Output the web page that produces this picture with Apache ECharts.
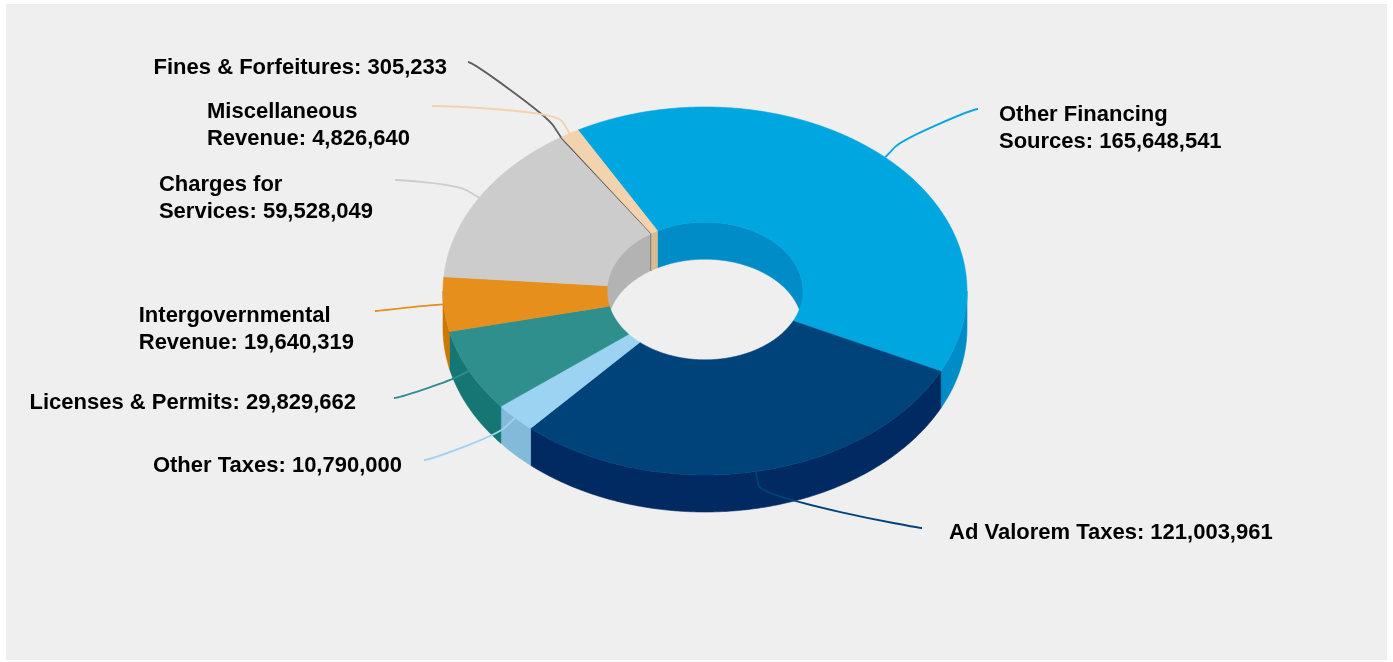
<!DOCTYPE html>
<html>
<head>
<meta charset="utf-8">
<script src="https://cdn.jsdelivr.net/npm/echarts@6/dist/echarts.min.js"></script>
<style>
  html, body { margin: 0; padding: 0; background: #ffffff; }
  #chart { width: 1393px; height: 662px; }
</style>
</head>
<body>
<div id="chart"></div>
<script>
// Revenue sources, in drawing order (clockwise)
const categories = [
  'Other Financing Sources',
  'Ad Valorem Taxes',
  'Other Taxes',
  'Licenses & Permits',
  'Intergovernmental Revenue',
  'Charges for Services',
  'Fines & Forfeitures',
  'Miscellaneous Revenue'
];
const revenue = [165648541, 121003961, 10790000, 29829662, 19640319, 59528049, 305233, 4826640];
const sliceColors = ['#00a6e0', '#00437a', '#9dd3f2', '#2e8f8c', '#e68f1c', '#cccccc', '#5e5e5e', '#f2d3ad'];
// words kept on the first label line (0 = single line)
const labelBreak = [2, 0, 0, 0, 1, 2, 0, 1];

// label placement relative to the donut centre:
// end = where the connector meets the label, text = first-line centre (left edge or right edge)
const labelLayout = [
  { side: 'right', end: [273, -182], text: [294, -176] },
  { side: 'right', end: [217, 237], text: [244, 242] },
  { side: 'left', end: [-281, 169], text: [-303, 175] },
  { side: 'left', end: [-311, 107], text: [-349, 112] },
  { side: 'left', end: [-330, 20], text: [-351, 25] },
  { side: 'left', end: [-310, -111], text: [-332, -106] },
  { side: 'left', end: [-237, -229], text: [-258, -223] },
  { side: 'left', end: [-273, -185], text: [-295, -179] }
];

const LABEL_FONT = 'bold 22px "Liberation Sans", Arial, Helvetica, sans-serif';
const LINE_H = 27;
const START_ANGLE = -29; // degrees, clockwise from 12 o'clock

const total = revenue.reduce((a, b) => a + b, 0);
const sliceStart = [];
const sliceEnd = [];
(function () {
  let acc = START_ANGLE;
  revenue.forEach(v => {
    sliceStart.push(acc);
    acc += v / total * 360;
    sliceEnd.push(acc);
  });
})();

const measureCtx = document.createElement('canvas').getContext('2d');
measureCtx.font = LABEL_FONT;

function labelLines(i) {
  const text = categories[i] + ': ' + revenue[i].toLocaleString('en-US');
  if (!labelBreak[i]) return [text];
  const words = text.split(' ');
  return [words.slice(0, labelBreak[i]).join(' '), words.slice(labelBreak[i]).join(' ')];
}

function shade(hex, amount) {
  const n = parseInt(hex.slice(1), 16);
  const ch = [(n >> 16) & 255, (n >> 8) & 255, n & 255].map(c =>
    Math.max(0, Math.min(255, Math.round(c + amount * 255))));
  return 'rgb(' + ch.join(',') + ')';
}

function geometry(api) {
  const W = api.getWidth(), H = api.getHeight();
  return { cx: W * 705 / 1393, cy: H * 291 / 662, rx: 262, ry: 184, depth: 37, inner: 0.374 };
}

function pt(g, r, deg, dz) {
  const t = deg * Math.PI / 180;
  return [g.cx + g.rx * r * Math.sin(t), g.cy - g.ry * r * Math.cos(t) + (dz || 0)];
}

function arc(g, r, a, b, dz) {
  const n = Math.max(2, Math.ceil(Math.abs(b - a) / 0.5) + 1);
  const out = [];
  for (let i = 0; i < n; i++) out.push(pt(g, r, a + (b - a) * i / (n - 1), dz));
  return out;
}

function overlap(a, b, lo, hi) {
  const res = [];
  for (let k = -2; k <= 2; k++) {
    const s = Math.max(a, lo + 360 * k), e = Math.min(b, hi + 360 * k);
    if (e > s) res.push([s, e]);
  }
  return res;
}

function renderSlice(params, api) {
  const i = params.dataIndex;
  const g = geometry(api);
  const a0 = sliceStart[i], a1 = sliceEnd[i];
  const color = sliceColors[i];
  const side = shade(color, -0.1);
  const children = [];

  // inner wall, seen through the hole on the far side
  overlap(a0, a1, -90, 90).forEach(([s, e]) => {
    children.push({
      type: 'polygon', z2: 1, silent: true,
      shape: { points: arc(g, g.inner, s, e, 0).concat(arc(g, g.inner, e, s, g.depth)) },
      style: { fill: side, stroke: side, lineWidth: 0.6 }
    });
  });

  // outer wall on the near side
  overlap(a0, a1, 90, 270).forEach(([s, e]) => {
    children.push({
      type: 'polygon', z2: 2, silent: true,
      shape: { points: arc(g, 1, s, e, 0).concat(arc(g, 1, e, s, g.depth)) },
      style: { fill: side, stroke: side, lineWidth: 0.6 }
    });
  });

  // top face
  children.push({
    type: 'polygon', z2: 3, silent: true,
    shape: { points: arc(g, 1, a0, a1, 0).concat(arc(g, g.inner, a1, a0, 0)) },
    style: { fill: color, stroke: color, lineWidth: revenue[i] / total < 0.005 ? 1 : 0.6 }
  });

  // connector
  const lay = labelLayout[i];
  const mid = (a0 + a1) / 2;
  const t = mid * Math.PI / 180;
  const anchor = pt(g, 1, mid, 0);
  const brk = [anchor[0] + 14 * Math.sin(t), anchor[1] - 14 * Math.cos(t)];
  const lx = g.cx + lay.end[0], ly = g.cy + lay.end[1];
  const c1x = lx + (lay.side === 'right' ? -5 : 5);
  const c2 = [2 * brk[0] - anchor[0], 2 * brk[1] - anchor[1]];
  const pathData = 'M' + lx + ' ' + ly +
    ' C' + c1x + ' ' + ly + ' ' + c2[0] + ' ' + c2[1] + ' ' + brk[0] + ' ' + brk[1] +
    ' L' + anchor[0] + ' ' + anchor[1];
  children.push({
    type: 'path', z2: 5, silent: true,
    shape: { pathData: pathData },
    style: { fill: null, stroke: color, lineWidth: 1.8 }
  });

  // label
  const lines = labelLines(i);
  const width = Math.max.apply(null, lines.map(s => measureCtx.measureText(s).width));
  const tx = g.cx + lay.text[0];
  const ty = g.cy + lay.text[1];
  children.push({
    type: 'text', z2: 6, silent: true,
    style: {
      text: lines.join('\n'),
      x: lay.side === 'right' ? tx : tx - width,
      y: ty - LINE_H / 2,
      fill: '#000000',
      font: LABEL_FONT,
      lineHeight: LINE_H,
      align: 'left',
      verticalAlign: 'top'
    }
  });

  return { type: 'group', children: children };
}

const chart = echarts.init(document.getElementById('chart'), null, { renderer: 'canvas' });
chart.setOption({
  animation: false,
  backgroundColor: '#ffffff',
  graphic: [{
    type: 'rect', z: -10, silent: true,
    shape: { x: 6, y: 4, width: 1381, height: 656 },
    style: { fill: '#efefef' }
  }],
  series: [{
    type: 'custom',
    name: 'Revenue',
    coordinateSystem: 'none',
    renderItem: renderSlice,
    data: revenue.map((v, i) => ({ name: categories[i], value: [v] }))
  }]
});
</script>
</body>
</html>
